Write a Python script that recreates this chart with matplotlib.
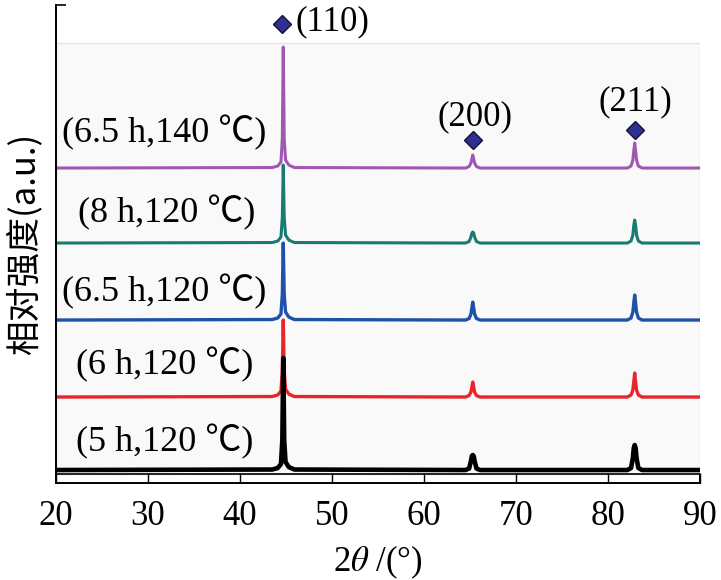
import numpy as np
import matplotlib
matplotlib.use("Agg")
import matplotlib.pyplot as plt

plt.rcParams['font.family'] = ['Liberation Serif', 'Noto Sans CJK SC']
plt.rcParams['mathtext.fontset'] = 'stix'

# 2theta sample points (deg)
two_theta = [20, 43.5, 44.1, 44.45, 44.6, 44.7, 44.8, 44.95, 45.3, 45.9,
             64.5, 64.9, 65.1, 65.2, 65.3, 65.4, 65.5, 65.7, 66.1,
             82.1, 82.5, 82.7, 82.8, 82.9, 83.0, 83.1, 83.3, 83.7, 90]

# intensities above each baseline (a.u.), read per trace
i_5h_120 = [0, 0.5, 2, 6, 30, 112, 30, 8, 3, 0.5,
            0, 1.5, 9, 14, 15, 14, 9, 1.5, 0,
            0, 2, 12, 22, 25, 22, 12, 2, 0, 0]
i_6h_120 = [0, 0.5, 2, 6, 26, 77, 26, 8, 3, 0.5,
            0, 1.5, 5, 10, 15, 10, 5, 1.5, 0,
            0, 2, 7, 15, 24, 15, 7, 2, 0, 0]
i_65h_120 = [0, 0.5, 2, 6, 26, 77, 26, 8, 3, 0.5,
             0, 1.5, 6, 12, 18, 12, 6, 1.5, 0,
             0, 2, 8, 17, 25, 17, 8, 2, 0, 0]
i_8h_120 = [0, 0.5, 2, 6, 26, 78, 26, 8, 3, 0.5,
            0, 1.5, 6, 10, 11, 10, 6, 1.5, 0,
            0, 2, 8, 18, 23, 18, 8, 2, 0, 0]
i_65h_140 = [0, 0.5, 2, 6, 30, 121, 30, 8, 3, 0.5,
             0, 1.5, 5, 9, 13, 9, 5, 1.5, 0,
             0, 2, 8, 17, 25, 17, 8, 2, 0, 0]

labels = ["(5 h,120 ℃)", "(6 h,120 ℃)", "(6.5 h,120 ℃)", "(8 h,120 ℃)", "(6.5 h,140 ℃)"]
series = [i_5h_120, i_6h_120, i_65h_120, i_8h_120, i_65h_140]
offsets = [0, 73, 150, 227, 302]
colors = ["#000000", "#e8262a", "#2050a8", "#1a7a72", "#a057b0"]
widths = [3.3, 2.4, 2.4, 2.2, 2.2]
label_x = [22.2, 22.2, 20.65, 22.4, 20.65]
label_y = [28, 105, 178, 257, 337]

peaks = ["(110)", "(200)", "(211)"]
peak_pos = [44.6, 65.33, 82.9]
marker_y = [446, 330, 340]
peak_text_x = [46.0, 65.5, 83.0]
peak_text_y = [448, 353, 368]

fig = plt.figure(figsize=(7.21, 5.80), dpi=100)
ax = fig.add_axes([0.0777, 0.1672, 0.8932, 0.8241])

ax.axhspan(-3.5, 427, facecolor="#f9f9f9", edgecolor="#e4e4e4", lw=1, zorder=0)

# draw top trace first, so the lower ones sit on top
for k in range(len(series) - 1, -1, -1):
    y = np.array(series[k]) + offsets[k]
    ax.plot(two_theta, y, color=colors[k], lw=widths[k], solid_joinstyle="round", zorder=2)
    ax.text(label_x[k], label_y[k], labels[k], fontsize=26, va="center", ha="left", zorder=3)

for k in range(len(peaks)):
    ax.plot(peak_pos[k], marker_y[k], "D", ms=9, mfc="#2e3192", mec="#111133", mew=1,
            clip_on=False, zorder=4)
    if k == 0:
        ax.text(peak_text_x[k], peak_text_y[k], peaks[k], fontsize=25, ha="left", va="center")
    else:
        ax.text(peak_text_x[k], peak_text_y[k], peaks[k], fontsize=25, ha="center", va="center")

ax.set_xlim(20, 90)
ax.set_ylim(-13, 465)
ax.axhline(-3.5, color="black", lw=1.2, zorder=1)
ax.axvline(90, ymin=0, ymax=9.5 / 478, color="black", lw=1.4, zorder=1)

ax.spines["top"].set_visible(False)
ax.spines["right"].set_visible(False)
ax.spines["left"].set_linewidth(1.4)
ax.spines["bottom"].set_linewidth(1.4)

xticks = [20, 30, 40, 50, 60, 70, 80, 90]
ax.set_xticks(xticks)
ax.set_xticklabels([str(t) for t in xticks], family="Liberation Serif")
ax.tick_params(axis="x", direction="in", length=7.2, width=1.0, labelsize=25, pad=12)
ax.set_yticks([465])
ax.set_yticklabels([])
ax.tick_params(axis="y", direction="in", length=7.2, width=1.2)

ax.set_xlabel(r"2$\theta$ /(°)", fontsize=25, labelpad=8)
ax.set_ylabel("相对强度(a.u.)", fontsize=25, family=["Noto Sans CJK SC"], labelpad=6)

fig.savefig("out.png", dpi=100)
